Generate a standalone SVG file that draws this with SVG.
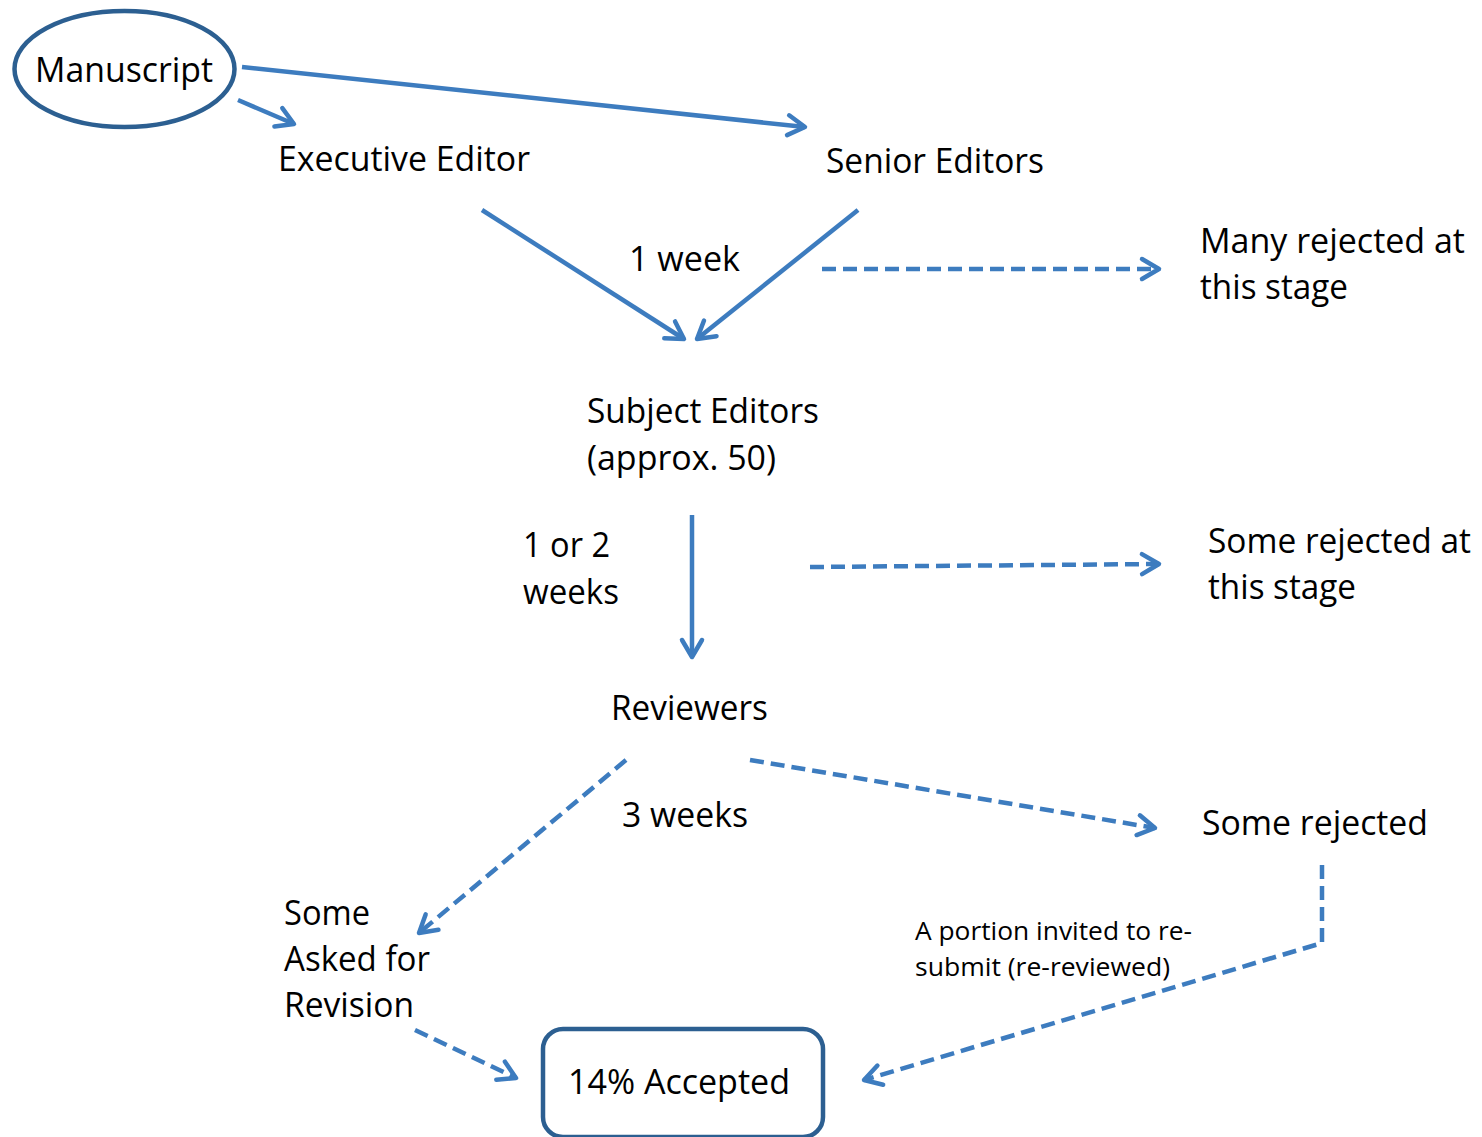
<svg xmlns="http://www.w3.org/2000/svg" width="1482" height="1137" viewBox="0 0 1482 1137">
<style>
  text { font-family: "Open Sans", "Liberation Sans", sans-serif; font-size: 35px; fill: #000; }
  .small { font-size: 25px; }
  .ln { fill: none; stroke: #3d7cbf; stroke-width: 4.5; }
  .dash { stroke-dasharray: 14 7; }
  .shape { fill: #fff; stroke: #2c5f91; stroke-width: 4.5; }
</style>
<defs>
  <marker id="arr" markerUnits="userSpaceOnUse" viewBox="-22 -14 26 28" refX="0" refY="0" markerWidth="26" markerHeight="28" orient="auto" overflow="visible">
    <path d="M-17,-10 L0,0 L-17,10" fill="none" stroke="#3d7cbf" stroke-width="4.5" stroke-linecap="round" stroke-linejoin="round" stroke-dasharray="none"/>
  </marker>
</defs>
<rect width="1482" height="1137" fill="#fff"/>

<g id="connectors">
  <line class="ln" x1="238" y1="100" x2="294" y2="124" marker-end="url(#arr)"/>
  <line class="ln" x1="242" y1="67" x2="805" y2="127" marker-end="url(#arr)"/>
  <line class="ln" x1="482" y1="210" x2="684" y2="339" marker-end="url(#arr)"/>
  <line class="ln" x1="858" y1="210" x2="697" y2="339" marker-end="url(#arr)"/>
  <line class="ln dash" x1="822" y1="269" x2="1159" y2="269" marker-end="url(#arr)"/>
  <line class="ln" x1="692" y1="515" x2="692" y2="657" marker-end="url(#arr)"/>
  <line class="ln dash" x1="810" y1="567" x2="1159" y2="564" marker-end="url(#arr)"/>
  <line class="ln dash" x1="626" y1="760" x2="419" y2="933" marker-end="url(#arr)"/>
  <line class="ln dash" x1="750" y1="760" x2="1155" y2="828" marker-end="url(#arr)"/>
  <polyline class="ln dash" points="1322,865 1322,943 864,1080" marker-end="url(#arr)"/>
  <line class="ln dash" x1="415" y1="1030" x2="516" y2="1078" marker-end="url(#arr)"/>
</g>

<g id="manuscript">
  <ellipse class="shape" cx="124.5" cy="69" rx="110" ry="58"/>
  <text x="35" y="82" textLength="178" lengthAdjust="spacingAndGlyphs">Manuscript</text>
</g>
<g id="executive-editor">
  <text x="278" y="171" textLength="252" lengthAdjust="spacingAndGlyphs">Executive Editor</text>
</g>
<g id="senior-editors">
  <text x="826" y="173" textLength="218" lengthAdjust="spacingAndGlyphs">Senior Editors</text>
</g>
<g id="label-1week">
  <text x="629" y="271" textLength="111" lengthAdjust="spacingAndGlyphs">1 week</text>
</g>
<g id="many-rejected">
  <text x="1200" y="253" textLength="265" lengthAdjust="spacingAndGlyphs">Many rejected at</text>
  <text x="1200" y="299" textLength="148" lengthAdjust="spacingAndGlyphs">this stage</text>
</g>
<g id="subject-editors">
  <text x="587" y="423" textLength="232" lengthAdjust="spacingAndGlyphs">Subject Editors</text>
  <text x="587" y="470" textLength="189" lengthAdjust="spacingAndGlyphs">(approx. 50)</text>
</g>
<g id="label-1or2weeks">
  <text x="523" y="557" textLength="87" lengthAdjust="spacingAndGlyphs">1 or 2</text>
  <text x="523" y="604" textLength="96" lengthAdjust="spacingAndGlyphs">weeks</text>
</g>
<g id="some-rejected-stage">
  <text x="1208" y="553" textLength="263" lengthAdjust="spacingAndGlyphs">Some rejected at</text>
  <text x="1208" y="599" textLength="148" lengthAdjust="spacingAndGlyphs">this stage</text>
</g>
<g id="reviewers">
  <text x="611" y="720" textLength="157" lengthAdjust="spacingAndGlyphs">Reviewers</text>
</g>
<g id="label-3weeks">
  <text x="622" y="827" textLength="126" lengthAdjust="spacingAndGlyphs">3 weeks</text>
</g>
<g id="some-rejected">
  <text x="1202" y="835" textLength="226" lengthAdjust="spacingAndGlyphs">Some rejected</text>
</g>
<g id="revision">
  <text x="284" y="925" textLength="86" lengthAdjust="spacingAndGlyphs">Some</text>
  <text x="284" y="971" textLength="146" lengthAdjust="spacingAndGlyphs">Asked for</text>
  <text x="284" y="1017" textLength="130" lengthAdjust="spacingAndGlyphs">Revision</text>
</g>
<g id="label-resubmit">
  <text class="small" x="915" y="940" textLength="277" lengthAdjust="spacingAndGlyphs">A portion invited to re-</text>
  <text class="small" x="915" y="976" textLength="255" lengthAdjust="spacingAndGlyphs">submit (re-reviewed)</text>
</g>
<g id="accepted">
  <rect class="shape" x="543" y="1029" width="280" height="108" rx="20" ry="20"/>
  <text x="568" y="1094" textLength="222" lengthAdjust="spacingAndGlyphs">14% Accepted</text>
</g>
</svg>
